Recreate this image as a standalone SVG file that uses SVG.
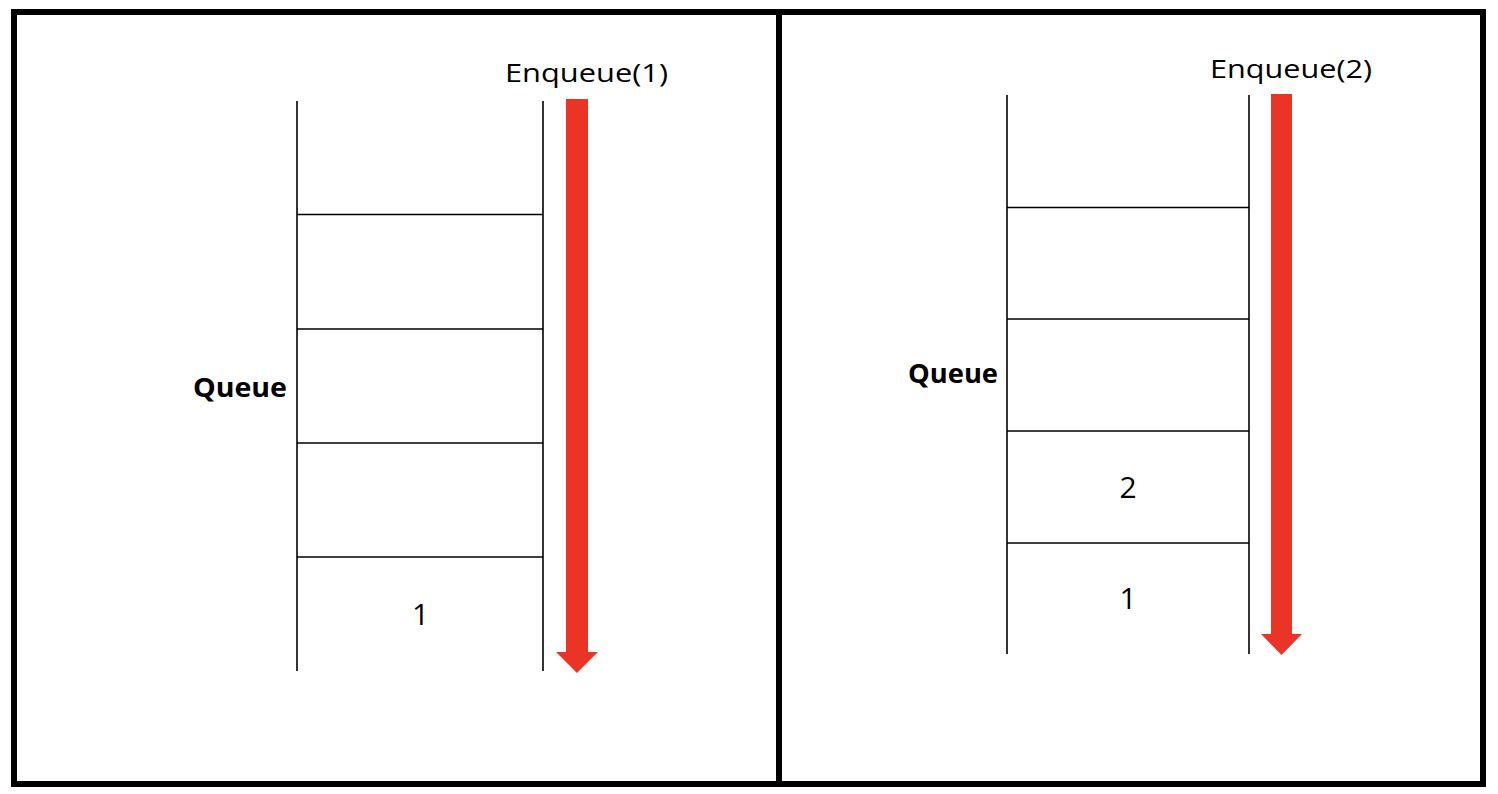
<svg xmlns="http://www.w3.org/2000/svg" width="1498" height="794" viewBox="0 0 1498 794">
<style>
.frame{fill:none;stroke:#000;stroke-width:6}
.ln{stroke:#000;stroke-width:1.6;fill:none}
.arrow{fill:#EA3526;stroke:none}
.lbl{font-family:"Open Sans",Lato,"Liberation Sans",sans-serif;fill:#000;text-anchor:middle}
.enq{font-size:25px}
.q{font-size:27px;font-weight:bold}
.num{font-size:30px}
</style>
<rect width="1498" height="794" fill="#fff"/>
<g id="frame">
<rect class="frame" x="14" y="12" width="1469" height="772"/>
<line class="frame" x1="779" y1="12" x2="779" y2="784"/>
</g>
<g id="queue-left">
<line class="ln" x1="297" y1="101" x2="297" y2="671"/>
<line class="ln" x1="543" y1="101" x2="543" y2="671"/>
<line class="ln" x1="297" y1="214.5" x2="543" y2="214.5"/>
<line class="ln" x1="297" y1="329" x2="543" y2="329"/>
<line class="ln" x1="297" y1="443" x2="543" y2="443"/>
<line class="ln" x1="297" y1="557" x2="543" y2="557"/>
<text class="lbl q" x="240" y="397" textLength="94" lengthAdjust="spacingAndGlyphs">Queue</text>
<text class="lbl num" x="420.5" y="625">1</text>
</g>
<g id="enqueue-1">
<polygon class="arrow" points="566,99 588,99 588,652 598,652 577,673 556,652 566,652"/>
<text class="lbl enq" x="586.5" y="82" textLength="163" lengthAdjust="spacingAndGlyphs">Enqueue(1)</text>
</g>
<g id="queue-right">
<line class="ln" x1="1007" y1="95" x2="1007" y2="654"/>
<line class="ln" x1="1249" y1="95" x2="1249" y2="654"/>
<line class="ln" x1="1007" y1="207.5" x2="1249" y2="207.5"/>
<line class="ln" x1="1007" y1="319" x2="1249" y2="319"/>
<line class="ln" x1="1007" y1="431" x2="1249" y2="431"/>
<line class="ln" x1="1007" y1="543" x2="1249" y2="543"/>
<text class="lbl q" x="953" y="383" textLength="90" lengthAdjust="spacingAndGlyphs">Queue</text>
<text class="lbl num" x="1128" y="498">2</text>
<text class="lbl num" x="1128" y="609">1</text>
</g>
<g id="enqueue-2">
<polygon class="arrow" points="1271,94 1292,94 1292,634 1302,634 1281.5,655 1261,634 1271,634"/>
<text class="lbl enq" x="1291" y="77.5" textLength="162" lengthAdjust="spacingAndGlyphs">Enqueue(2)</text>
</g>
<g id="connectors"></g>
</svg>
